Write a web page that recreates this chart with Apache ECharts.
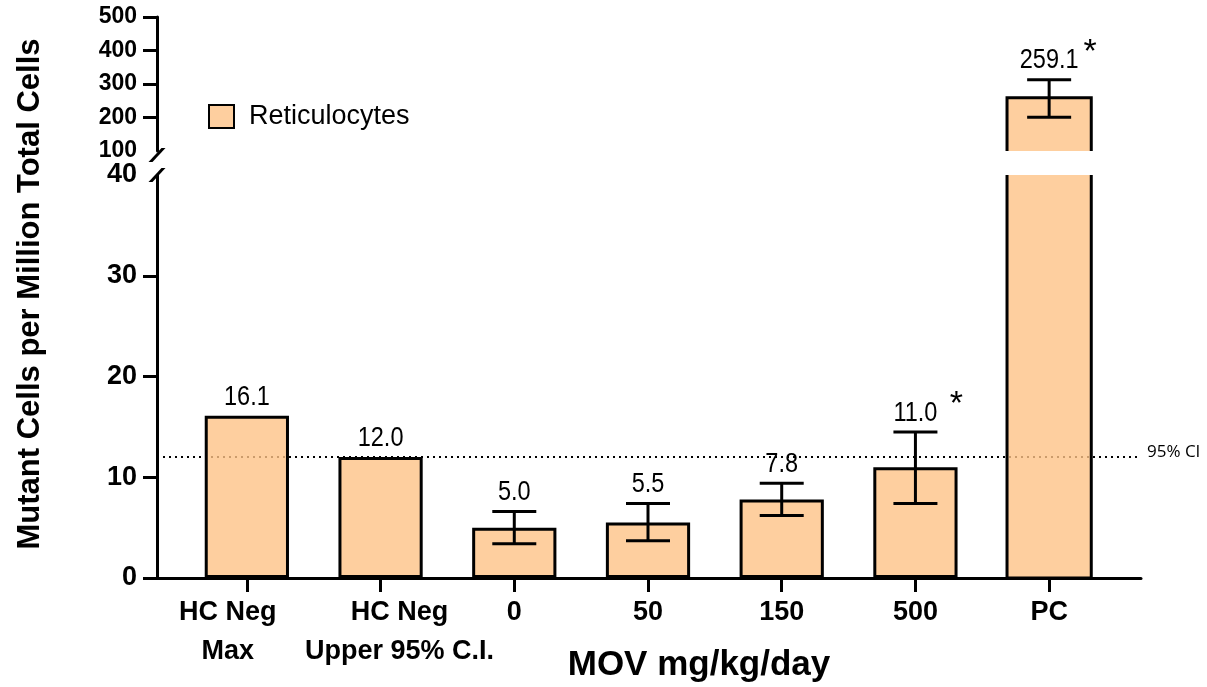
<!DOCTYPE html>
<html>
<head>
<meta charset="utf-8">
<title>Mutant Cells per Million Total Cells</title>
<script src="https://cdn.jsdelivr.net/npm/echarts@6/dist/echarts.min.js"></script>
<style>
  html, body { margin: 0; padding: 0; background: #fff; }
  #chart { width: 1207px; height: 687px; }
</style>
</head>
<body>
<div id="chart"></div>
<script>
// x axis groups
var categories = ['HC Neg\nMax', 'HC Neg\nUpper 95% C.I.', '0', '50', '150', '500', 'PC'];
// mean mutant cells per million total cells
var means = [16.1, 12.0, 5.0, 5.5, 7.8, 11.0, 259.1];
// error bar ends (null = no error bar)
var errLow = [null, null, 3.4, 3.7, 6.2, 7.4, 201];
var errHigh = [null, null, 6.6, 7.4, 9.4, 14.5, 313];
// groups marked with a star
var starred = [false, false, false, false, false, true, true];
// historical control upper limit
var ciValue = 12.0;
var ciLabel = '95% CI';
// the two segments of the broken y axis
var lowerTicks = [0, 10, 20, 30, 40];
var upperTicks = [100, 200, 300, 400, 500];

var FONT = '"Liberation Sans", Arial, Helvetica, sans-serif';
var FILL = 'rgba(254,195,135,0.8)';
var BAR_RATIO = 0.63;
var LOWER_MAX = lowerTicks[lowerTicks.length - 1];
var UPPER_MIN = upperTicks[0];
var BREAK = 'path://M0,14 L13,0 L17,0 L4,14 Z';

function seg(x1, y1, x2, y2) {
    return {type: 'line', shape: {x1: x1, y1: y1, x2: x2, y2: y2}, style: {stroke: '#000', lineWidth: 3}};
}

function txt(x, y, text, size, sx) {
    return {
        type: 'text', x: x, y: y, scaleX: sx,
        style: {
            text: text, fill: '#000', font: size + 'px ' + FONT,
            textAlign: 'center', textVerticalAlign: 'bottom', align: 'center', verticalAlign: 'bottom'
        }
    };
}

// broken bar pieces, error bars and value labels for one axis segment
function overlay(isUpper) {
    return function (params, api) {
        var i = params.dataIndex;
        var m = means[i];
        var kids = [];
        var x = api.coord([i, m])[0];
        var w = api.size([1, 0])[0] * BAR_RATIO;
        var xl = x - w / 2, xr = x + w / 2;
        var topY;

        if (isUpper) {
            if (m < UPPER_MIN) return;
            var baseY = api.coord([i, UPPER_MIN])[1];
            topY = api.coord([i, m])[1];
            kids.push({type: 'rect', shape: {x: xl, y: topY, width: w, height: baseY - topY}, style: {fill: FILL}});
            kids.push({type: 'polyline', shape: {points: [[xl, baseY], [xl, topY], [xr, topY], [xr, baseY]]},
                style: {stroke: '#000', lineWidth: 3, fill: null}});
        } else {
            if (m > LOWER_MAX) {
                var y0 = api.coord([i, 0])[1];
                var yTop = api.coord([i, LOWER_MAX])[1];
                kids.push({type: 'rect', shape: {x: xl, y: yTop, width: w, height: y0 - yTop}, style: {fill: FILL}});
                kids.push({type: 'polyline', shape: {points: [[xl, yTop], [xl, y0], [xr, y0], [xr, yTop]]},
                    style: {stroke: '#000', lineWidth: 3, fill: null}});
                return {type: 'group', children: kids};
            }
            topY = api.coord([i, m])[1];
        }

        if (errLow[i] != null) {
            var lo = api.coord([i, errLow[i]])[1];
            var hi = api.coord([i, errHigh[i]])[1];
            kids.push(seg(x, lo, x, hi), seg(x - 22, lo, x + 22, lo), seg(x - 22, hi, x + 22, hi));
            topY = Math.min(topY, hi);
        }
        kids.push(txt(x, topY - 5, m.toFixed(1), 28, 0.84));
        if (starred[i]) kids.push(txt(x + 41, topY - 10, '*', 34, 1));
        return {type: 'group', children: kids};
    };
}

var labelBase = {fontFamily: FONT, fontWeight: 'bold', fontSize: 27, lineHeight: 39, color: '#000'};

var chart = echarts.init(document.getElementById('chart'));

var option = {
    animation: false,
    legend: {
        data: ['Reticulocytes'],
        icon: 'rect',
        left: 208, top: 103, padding: 0,
        itemWidth: 25, itemHeight: 23,
        itemStyle: {borderColor: '#000', borderWidth: 2},
        textStyle: {fontFamily: FONT, fontSize: 27, color: '#000', padding: [0, 0, 0, 10]}
    },
    grid: [
        {left: 180, right: 91, top: 175, bottom: 109},
        {left: 180, right: 91, top: 17, bottom: 536},
        {left: 157, right: 66, top: 175, bottom: 109}
    ],
    xAxis: [
        {
            type: 'category', gridIndex: 0, data: categories,
            axisLine: {show: false},
            axisTick: {show: true, alignWithLabel: true, length: 14, lineStyle: {color: '#000', width: 3}},
            axisLabel: Object.assign({
                interval: 0, margin: 15,
                // the two control labels are nudged apart, as in the original figure
                formatter: function (value, idx) {
                    var key = idx === 0 ? 'l' : (idx === 1 ? 'r' : 'c');
                    return value.split('\n').map(function (s) { return '{' + key + '|' + s + '}'; }).join('\n');
                },
                rich: {
                    l: Object.assign({padding: [0, 38, 0, 0]}, labelBase),
                    r: Object.assign({padding: [0, 0, 0, 38]}, labelBase),
                    c: Object.assign({}, labelBase)
                }
            }, labelBase)
        },
        {type: 'category', gridIndex: 1, data: categories, show: false},
        {
            type: 'value', gridIndex: 2, min: 0, max: 1,
            axisLine: {show: true, onZero: false, lineStyle: {color: '#000', width: 3}},
            axisTick: {show: false}, axisLabel: {show: false}, splitLine: {show: false}
        }
    ],
    yAxis: [
        {
            type: 'value', gridIndex: 0, min: 0, max: LOWER_MAX, interval: 10, offset: 23,
            axisLine: {show: true, lineStyle: {color: '#000', width: 3}, symbol: ['none', BREAK], symbolSize: [17, 14]},
            axisTick: {show: true, length: 14, lineStyle: {color: '#000', width: 3}, customValues: lowerTicks.slice(0, -1)},
            axisLabel: {margin: 20, fontFamily: FONT, fontWeight: 'bold', fontSize: 27, color: '#000', customValues: lowerTicks},
            splitLine: {show: false}
        },
        {
            type: 'value', gridIndex: 1, min: UPPER_MIN, max: upperTicks[upperTicks.length - 1], interval: 100, offset: 23,
            axisLine: {show: true, lineStyle: {color: '#000', width: 3}, symbol: [BREAK, 'none'], symbolSize: [17, 14], symbolOffset: [-4, 0]},
            axisTick: {show: true, length: 14, lineStyle: {color: '#000', width: 3}, customValues: upperTicks.slice(1)},
            axisLabel: {margin: 20, fontFamily: FONT, fontWeight: 'bold', fontSize: 23, color: '#000', customValues: upperTicks},
            splitLine: {show: false}
        },
        {type: 'value', gridIndex: 2, min: 0, max: LOWER_MAX, show: false}
    ],
    series: [
        {
            name: 'Reticulocytes', type: 'bar', xAxisIndex: 0, yAxisIndex: 0, z: 2,
            barWidth: (BAR_RATIO * 100) + '%',
            data: means.map(function (v) { return v <= LOWER_MAX ? v : '-'; }),
            itemStyle: {color: FILL, borderColor: '#000', borderWidth: 3}
        },
        {
            type: 'custom', xAxisIndex: 0, yAxisIndex: 0, z: 3, silent: true,
            data: means.map(function (v, i) { return [i, v]; }),
            renderItem: overlay(false)
        },
        {
            type: 'custom', xAxisIndex: 1, yAxisIndex: 1, z: 3, silent: true,
            data: means.map(function (v, i) { return [i, v]; }),
            renderItem: overlay(true)
        },
        {
            type: 'line', xAxisIndex: 2, yAxisIndex: 2, z: 1, silent: true,
            data: [[0, ciValue], [1, ciValue]],
            symbol: 'none',
            lineStyle: {color: '#000', width: 2, type: [2, 4]},
            endLabel: {show: true, formatter: ciLabel, fontFamily: '"Open Sans", ' + FONT, fontSize: 17,
                color: '#000', distance: 6, offset: [0, -5]}
        }
    ],
    graphic: [
        {
            type: 'text', x: 30, y: 294, rotation: Math.PI / 2,
            style: {text: 'Mutant Cells per Million Total Cells', font: 'bold 31px ' + FONT, fill: '#000',
                textAlign: 'center', textVerticalAlign: 'middle', align: 'center', verticalAlign: 'middle'}
        },
        {
            type: 'text', x: 699, y: 665,
            style: {text: 'MOV mg/kg/day', font: 'bold 35px ' + FONT, fill: '#000',
                textAlign: 'center', textVerticalAlign: 'middle', align: 'center', verticalAlign: 'middle'}
        }
    ]
};

chart.setOption(option);
</script>
</body>
</html>
